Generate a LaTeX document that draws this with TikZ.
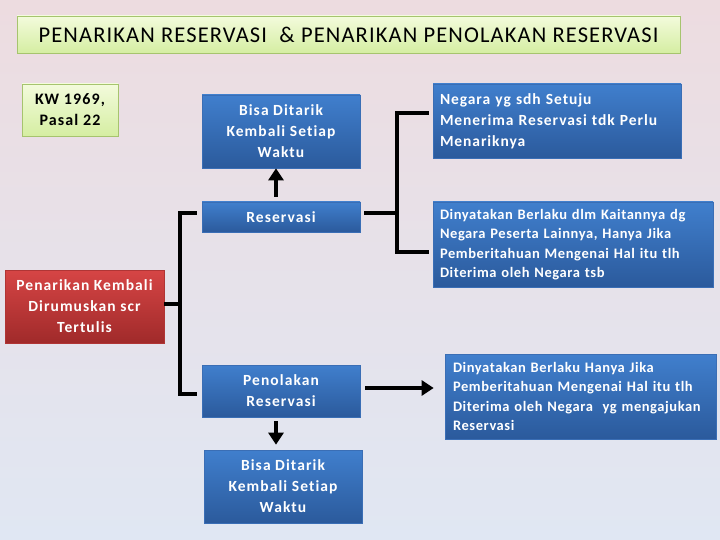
\documentclass[tikz,border=0pt]{standalone}
\usepackage{fontspec}
\setmainfont{Carlito}[Ligatures=NoCommon]
\usetikzlibrary{arrows.meta}
\definecolor{bgtop}{HTML}{EDDCE0}
\definecolor{bgmid}{HTML}{C6D3EC}
\definecolor{bgbot}{HTML}{E0E7F3}
\definecolor{greentop}{HTML}{F3FBDC}
\definecolor{greenbot}{HTML}{D5EEA2}
\definecolor{greenborder}{HTML}{A6C46E}
\definecolor{bluetop}{HTML}{407FCD}
\definecolor{bluebot}{HTML}{2B5A9C}
\definecolor{blueborder}{HTML}{3A6EB5}
\definecolor{redtop}{HTML}{D64545}
\definecolor{redbot}{HTML}{A02A2A}
\definecolor{redborder}{HTML}{B03535}
\newcommand{\boxfont}{\bfseries\fontsize{15.5}{21}\selectfont\addfontfeatures{LetterSpace=7,Ligatures=NoCommon}}
\newcommand{\smallboxfont}{\bfseries\fontsize{14.5}{19.5}\selectfont\addfontfeatures{LetterSpace=4,Ligatures=NoCommon}}
\tikzset{
  greenbox/.style={draw=greenborder, line width=0.8pt, top color=greentop, bottom color=greenbot, text=black, align=center, inner sep=0pt},
  bluebox/.style={draw=blueborder, line width=0.6pt, top color=bluetop, bottom color=bluebot, text=white, font=\boxfont, align=center, inner sep=0pt},
  redbox/.style={draw=redborder, line width=0.6pt, top color=redtop, bottom color=redbot, text=white, font=\boxfont, align=center, inner sep=0pt},
  leftbox/.style={bluebox, align=left},
  conn/.style={line width=3.5pt, black},
  arr/.style={line width=3.5pt, black, -{Triangle[width=15pt,length=12pt]}},
}
\begin{document}
\begin{tikzpicture}[x=1pt,y=-1pt]
\shade[top color=bgtop, middle color=bgmid, bottom color=bgbot] (0,0) rectangle (720,540);
\useasboundingbox (0,0) rectangle (720,540);

\node[greenbox, minimum width=663pt, minimum height=37pt, font=\fontsize{22.5}{24}\selectfont\addfontfeatures{LetterSpace=5,Ligatures=NoCommon}] (title) at (348.5,34.5) {PENARIKAN RESERVASI \ \& PENARIKAN PENOLAKAN RESERVASI};
\node[greenbox, minimum width=96pt, minimum height=52pt, font=\bfseries\fontsize{16}{21}\selectfont\addfontfeatures{LetterSpace=7,Ligatures=NoCommon}] (kw) at (70,110) {KW 1969,\\Pasal 22};

\node[bluebox, minimum width=158pt, minimum height=73pt] (bisa1) at (281,131.5) {Bisa Ditarik\\Kembali Setiap\\Waktu};
\node[bluebox, minimum width=158pt, minimum height=30pt] (res) at (281,217) {Reservasi};
\node[redbox, minimum width=159pt, minimum height=73pt] (pen) at (84.5,306.5) {Penarikan Kembali\\Dirumuskan scr\\Tertulis};
\node[bluebox, minimum width=158pt, minimum height=52pt] (peno) at (281,391) {Penolakan\\Reservasi};
\node[bluebox, minimum width=158pt, minimum height=73pt] (bisa2) at (283,486.5) {Bisa Ditarik\\Kembali Setiap\\Waktu};

\node[leftbox, minimum width=248pt, minimum height=74pt, text width=234pt, font=\bfseries\fontsize{15.5}{21}\selectfont\addfontfeatures{LetterSpace=6,Ligatures=NoCommon}] (neg) at (557,121) {Negara yg sdh Setuju\\Menerima Reservasi tdk Perlu\\Menariknya};
\node[leftbox, minimum width=280pt, minimum height=85pt, text width=266pt, font=\smallboxfont] (din1) at (573,244.5) {Dinyatakan Berlaku dlm Kaitannya dg\\Negara Peserta Lainnya, Hanya Jika\\Pemberitahuan Mengenai Hal itu tlh\\Diterima oleh Negara tsb};
\node[leftbox, minimum width=271pt, minimum height=85pt, text width=255pt, font=\smallboxfont] (din2) at (580.5,396.5) {Dinyatakan Berlaku Hanya Jika\\Pemberitahuan Mengenai Hal itu tlh\\Diterima oleh Negara \ yg mengajukan\\Reservasi};

% arrows
\draw[arr, shorten <=5pt] ([xshift=-5pt]res.north) -- ([xshift=-5pt]bisa1.south);
\draw[arr, shorten <=4pt, shorten >=5pt] ([xshift=-5pt]peno.south) -- ([xshift=-7pt]bisa2.north);
\draw[arr, shorten <=5pt, shorten >=11pt] (peno.east |- 0,388) -- (din2.west |- 0,388);

% left bracket
\coordinate (lj) at (180,304);
\coordinate (ltop) at (180,213);
\coordinate (lbot) at (180,394);
\draw[conn] (pen.east |- lj) -- (lj);
\draw[conn] ([xshift=-5pt]res.west |- ltop) -- (ltop) -- (lbot) -- ([xshift=-5pt]peno.west |- lbot);

% right bracket
\coordinate (rj) at (397,213);
\coordinate (rtop) at (397,113);
\coordinate (rbot) at (397,252);
\draw[conn] ([xshift=4pt]res.east |- rj) -- (rj);
\draw[conn] ([xshift=-4pt]neg.west |- rtop) -- (rtop) -- (rbot) -- ([xshift=-4pt]din1.west |- rbot);
\end{tikzpicture}
\end{document}
